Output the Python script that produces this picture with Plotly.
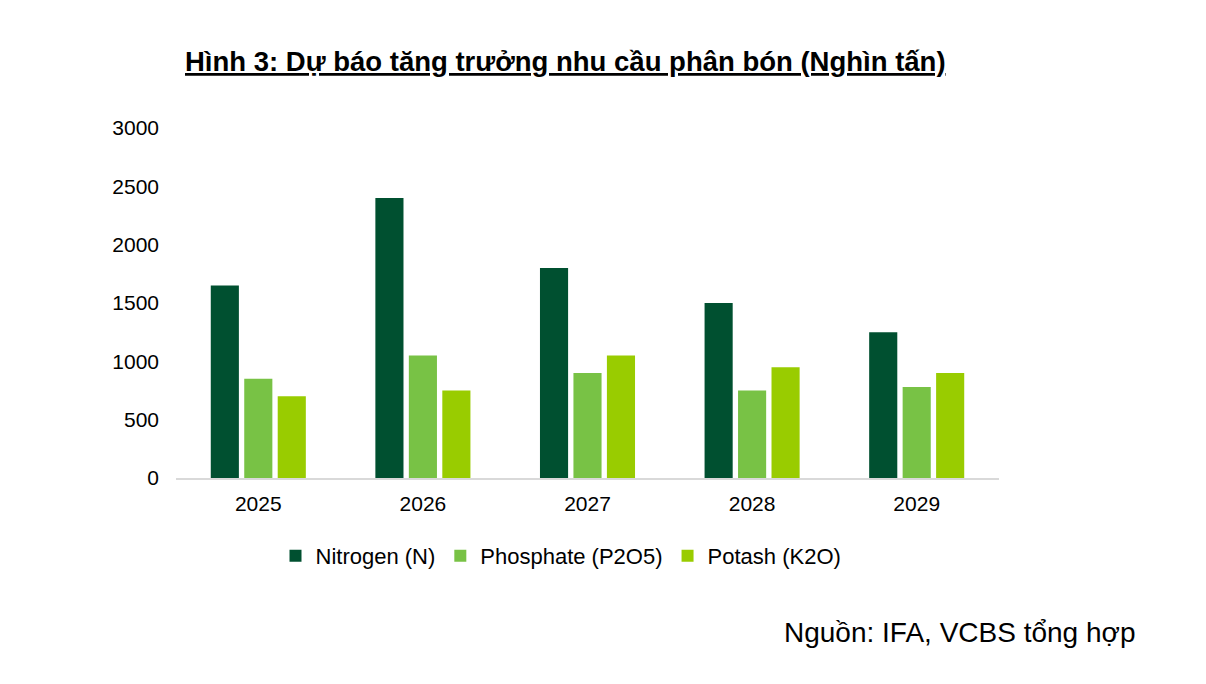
import plotly.graph_objects as go

# du lieu doc tu hinh
years = ["2025", "2026", "2027", "2028", "2029"]
nitrogen = [1650, 2400, 1800, 1500, 1250]
phosphate = [850, 1050, 900, 750, 780]
potash = [700, 750, 1050, 950, 900]

series_names = ["Nitrogen (N)", "Phosphate (P2O5)", "Potash (K2O)"]
colors = ["#005030", "#78C245", "#99CC00"]

# trang html co le 8px, nen bu lai
L, R, T, B = 168, 215, 120, 214
PW, PH = 1206 - L - R, 684 - T - B

fig = go.Figure()
for name, vals, col in zip(series_names, [nitrogen, phosphate, potash], colors):
    fig.add_trace(go.Bar(x=years, y=vals, name=name, marker_color=col,
                         marker_line_width=0))

fig.update_layout(
    width=1206, height=684,
    paper_bgcolor="white", plot_bgcolor="white",
    margin=dict(l=L, r=R, t=T, b=B),
    font=dict(family="Liberation Sans, Arial", size=21, color="black"),
    barmode="group", bargap=0.39, bargroupgap=0.16,
    showlegend=True,
    legend=dict(orientation="h", x=(553 - L) / PW, xanchor="center",
                y=-(527 - 470) / PH, yanchor="top",
                itemwidth=30, font=dict(size=22), traceorder="normal"),
)
fig.update_yaxes(range=[0, 3000], dtick=500, showgrid=False, zeroline=False,
                 showline=False, ticks="", ticklabelstandoff=16)
fig.update_xaxes(showgrid=False, showline=True, linecolor="#d9d9d9", linewidth=2,
                 ticks="", ticklabelstandoff=6)

fig.add_annotation(text="<b><u>Hình 3: Dự báo tăng trưởng nhu cầu phân bón (Nghìn tấn)</u></b>",
                   xref="paper", yref="paper", x=(557 - L) / PW, y=1 + (120 - 54) / PH,
                   xanchor="center", yanchor="middle", showarrow=False,
                   font=dict(size=27.5, family="Liberation Sans, Arial"))
fig.add_annotation(text="Nguồn: IFA, VCBS tổng hợp",
                   xref="paper", yref="paper", x=(1129 - L) / PW, y=-(624 - 470) / PH,
                   xanchor="right", yanchor="middle", showarrow=False,
                   font=dict(size=28, family="Liberation Sans, Arial"))

fig.write_html("out.html")
